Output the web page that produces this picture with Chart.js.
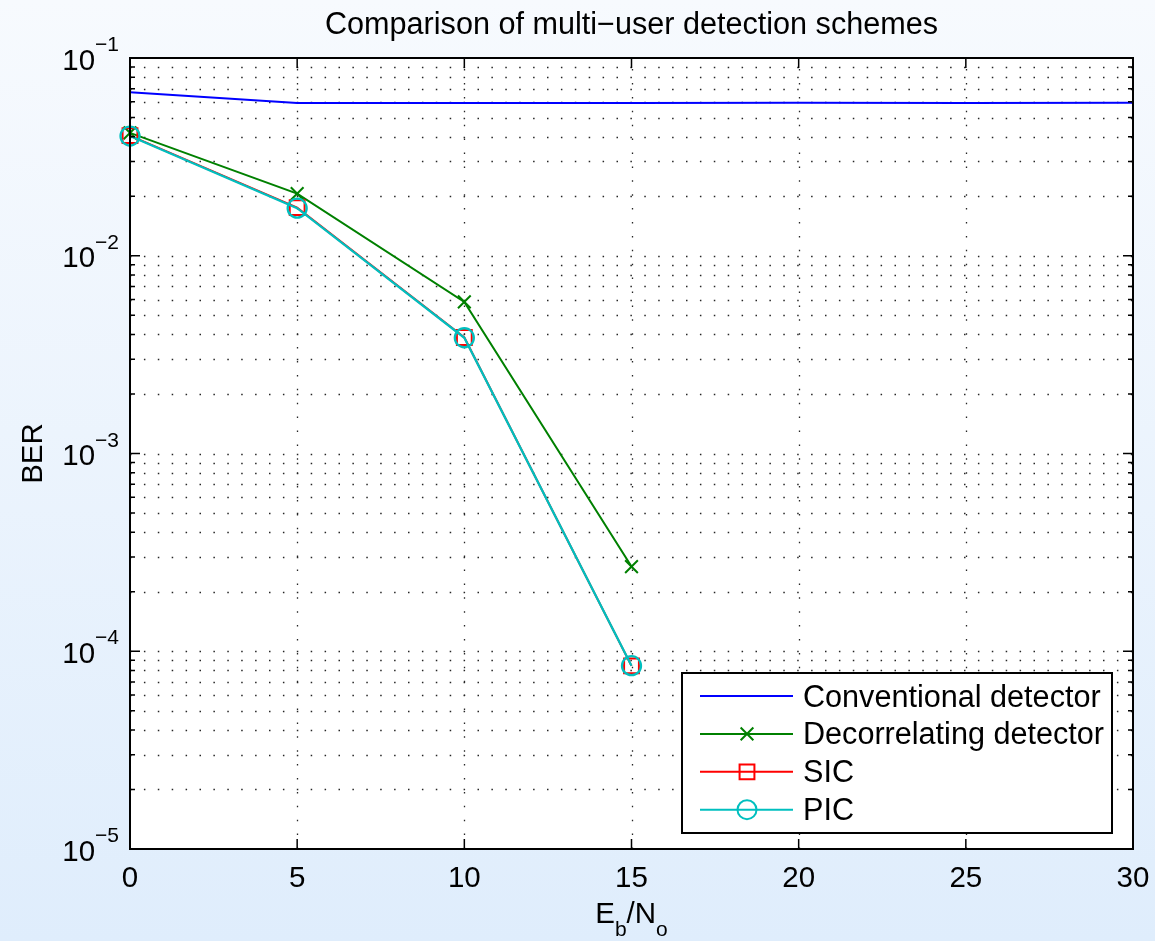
<!DOCTYPE html>
<html>
<head>
<meta charset="utf-8">
<title>Comparison of multi-user detection schemes</title>
<script src="https://cdn.jsdelivr.net/npm/chart.js"></script>
<style>
  html, body { margin: 0; padding: 0; }
  body {
    width: 1155px; height: 941px; overflow: hidden;
    background: linear-gradient(to bottom, #f7fafe 0%, #dfedfc 100%);
  }
  #wrap { position: relative; width: 1155px; height: 941px; }
</style>
</head>
<body>
<div id="wrap"><canvas id="berChart" width="1155" height="941"></canvas></div>
<script>
// Eb/No values (dB) and BER
var snr_db = [0, 5, 10, 15, 20, 25, 30]
var ber_conventional = [0.0671, 0.0593, 0.0593, 0.0593, 0.0594, 0.0593, 0.0594]
var ber_decorrelating = [0.0418, 0.0206, 0.00584, 0.000268]
var ber_sic = [0.0405, 0.0175, 0.00386, 0.0000843]
var ber_pic = [0.0403, 0.0174, 0.00385, 0.0000845]

var series_names = ['Conventional detector', 'Decorrelating detector', 'SIC', 'PIC']
var x_ticks = [0, 5, 10, 15, 20, 25, 30]
var y_tick_exps = [-1, -2, -3, -4, -5]

var FONT = "'Liberation Sans', Arial, Helvetica, sans-serif"

function toPoints(vals){
    var pts = []
    for (var i = 0; i < vals.length; i++){
        pts.push({x: snr_db[i], y: vals[i]})
    }
    return pts
}

// draws one marker like matlab does, used for the legend samples
function drawMarker(ctx, style, x, y, r, color){
    ctx.save()
    ctx.strokeStyle = color
    ctx.lineWidth = 2
    ctx.beginPath()
    if (style == 'crossRot'){
        var d = r * Math.SQRT1_2
        ctx.moveTo(x - d, y - d); ctx.lineTo(x + d, y + d)
        ctx.moveTo(x - d, y + d); ctx.lineTo(x + d, y - d)
    }
    else if (style == 'rect'){
        var s = r * Math.SQRT1_2
        ctx.rect(x - s, y - s, 2 * s, 2 * s)
    }
    else if (style == 'circle'){
        ctx.arc(x, y, r, 0, Math.PI * 2)
    }
    ctx.stroke()
    ctx.restore()
}

var matlabLook = {
    id: 'matlabLook',
    beforeDatasetsDraw: function(chart){
        var ctx = chart.ctx
        var a = chart.chartArea
        var xs = chart.scales.x
        var ys = chart.scales.y
        ctx.save()
        ctx.fillStyle = '#ffffff'
        ctx.fillRect(a.left, a.top, a.right - a.left, a.bottom - a.top)

        // dotted grid
        ctx.strokeStyle = '#262626'
        ctx.lineWidth = 1.3
        ctx.setLineDash([1.5, 12.4])
        for (var k = -5; k <= -2; k++){
            for (var m = 1; m <= 9; m++){
                if (k == -5 && m == 1) continue
                var py = Math.round(ys.getPixelForValue(m * Math.pow(10, k))) + 0.5
                ctx.beginPath()
                ctx.moveTo(a.left, py)
                ctx.lineTo(a.right, py)
                ctx.stroke()
            }
        }
        for (var i = 1; i < x_ticks.length - 1; i++){
            var px = Math.round(xs.getPixelForValue(x_ticks[i])) + 0.5
            ctx.beginPath()
            ctx.moveTo(px, a.bottom)
            ctx.lineTo(px, a.top)
            ctx.stroke()
        }
        ctx.restore()
    },
    afterDatasetsDraw: function(chart){
        var ctx = chart.ctx
        var a = chart.chartArea
        var xs = chart.scales.x
        var ys = chart.scales.y
        ctx.save()
        ctx.setLineDash([])
        ctx.strokeStyle = '#000000'

        // ticks
        ctx.lineWidth = 1.5
        ctx.beginPath()
        for (var i = 0; i < x_ticks.length; i++){
            var px = xs.getPixelForValue(x_ticks[i])
            ctx.moveTo(px, a.bottom); ctx.lineTo(px, a.bottom - 10)
            ctx.moveTo(px, a.top); ctx.lineTo(px, a.top + 10)
        }
        for (var k = -5; k <= -1; k++){
            for (var m = 1; m <= 9; m++){
                if (k == -1 && m > 1) break
                var py = ys.getPixelForValue(m * Math.pow(10, k))
                var len = (m == 1) ? 10 : 5
                ctx.moveTo(a.left, py); ctx.lineTo(a.left + len, py)
                ctx.moveTo(a.right, py); ctx.lineTo(a.right - len, py)
            }
        }
        ctx.stroke()

        // box
        ctx.lineWidth = 2
        ctx.strokeRect(a.left, a.top, a.right - a.left, a.bottom - a.top)

        // tick labels
        ctx.fillStyle = '#000000'
        ctx.font = '29.5px ' + FONT
        ctx.textAlign = 'center'
        ctx.textBaseline = 'alphabetic'
        for (var i = 0; i < x_ticks.length; i++){
            ctx.fillText(String(x_ticks[i]), xs.getPixelForValue(x_ticks[i]), a.bottom + 38)
        }
        for (var j = 0; j < y_tick_exps.length; j++){
            var py = ys.getPixelForValue(Math.pow(10, y_tick_exps[j]))
            var exp = '\u2212' + String(-y_tick_exps[j])
            ctx.font = '21px ' + FONT
            var ew = ctx.measureText(exp).width
            ctx.textAlign = 'left'
            ctx.fillText(exp, 119 - ew, py - 7)
            ctx.font = '29.5px ' + FONT
            ctx.textAlign = 'right'
            ctx.fillText('10', 119 - ew, py + 11.5)
        }

        // title
        ctx.textAlign = 'center'
        ctx.font = '30.6px ' + FONT
        ctx.fillText('Comparison of multi\u2212user detection schemes', (a.left + a.right) / 2, 34)

        // y label
        ctx.save()
        ctx.translate(42, (a.top + a.bottom) / 2)
        ctx.rotate(-Math.PI / 2)
        ctx.font = '29.5px ' + FONT
        ctx.fillText('BER', 0, 0)
        ctx.restore()

        // x label E_b/N_o
        var big = '29.5px ' + FONT, small = '21px ' + FONT
        var parts = [['E', big, 0], ['b', small, 13], ['/N', big, 0], ['o', small, 13]]
        var total = 0
        for (var p = 0; p < parts.length; p++){
            ctx.font = parts[p][1]
            total += ctx.measureText(parts[p][0]).width
        }
        var cx = (a.left + a.right) / 2 - total / 2
        ctx.textAlign = 'left'
        for (var p = 0; p < parts.length; p++){
            ctx.font = parts[p][1]
            ctx.fillText(parts[p][0], cx, 923 + parts[p][2])
            cx += ctx.measureText(parts[p][0]).width
        }

        // legend
        var lx = 682, ly = 673, lw = 430, lh = 160
        ctx.fillStyle = '#ffffff'
        ctx.fillRect(lx, ly, lw, lh)
        ctx.lineWidth = 2
        ctx.strokeStyle = '#000000'
        ctx.strokeRect(lx, ly, lw, lh)
        var dsets = chart.data.datasets
        for (var d = 0; d < dsets.length; d++){
            var ds = dsets[d]
            var ry = ly + 23 + d * 37.9
            ctx.strokeStyle = ds.borderColor
            ctx.lineWidth = 2
            ctx.beginPath()
            ctx.moveTo(700, ry); ctx.lineTo(793, ry)
            ctx.stroke()
            if (ds.pointRadius > 0){
                drawMarker(ctx, ds.pointStyle, 747, ry, ds.pointRadius, ds.borderColor)
            }
            ctx.fillStyle = '#000000'
            ctx.font = '30.6px ' + FONT
            ctx.textAlign = 'left'
            ctx.fillText(ds.label, 803, ry + 10.5)
        }
        ctx.restore()
    }
}

var ctx = document.getElementById('berChart').getContext('2d')
var berChart = new Chart(ctx, {
    type: 'line',
    data: {
        datasets: [
            {
                label: series_names[0], data: toPoints(ber_conventional),
                borderColor: '#0000ff', borderWidth: 2, pointRadius: 0, order: 3
            },
            {
                label: series_names[1], data: toPoints(ber_decorrelating),
                borderColor: '#008000', borderWidth: 2, order: 2, clip: false,
                pointStyle: 'crossRot', pointRadius: 9, pointBorderWidth: 2,
                pointBorderColor: '#008000', pointBackgroundColor: 'rgba(0,0,0,0)'
            },
            {
                label: series_names[2], data: toPoints(ber_sic),
                borderColor: '#ff0000', borderWidth: 2, order: 1, clip: false,
                pointStyle: 'rect', pointRadius: 10.5, pointBorderWidth: 2,
                pointBorderColor: '#ff0000', pointBackgroundColor: 'rgba(0,0,0,0)'
            },
            {
                label: series_names[3], data: toPoints(ber_pic),
                borderColor: '#00bfbf', borderWidth: 2.3, order: 0, clip: false,
                pointStyle: 'circle', pointRadius: 9.5, pointBorderWidth: 2.3,
                pointBorderColor: '#00bfbf', pointBackgroundColor: 'rgba(0,0,0,0)'
            }
        ]
    },
    options: {
        responsive: false,
        animation: false,
        layout: { padding: { top: 58, right: 22, left: 0, bottom: 0 } },
        elements: { line: { tension: 0 } },
        plugins: {
            legend: { display: false },
            tooltip: { enabled: false },
            title: { display: false }
        },
        scales: {
            x: {
                type: 'linear', min: 0, max: 30,
                ticks: { display: false, stepSize: 5 },
                grid: { display: false },
                border: { display: false },
                afterFit: function(scale){ scale.height = 92 }
            },
            y: {
                type: 'logarithmic', min: 1e-5, max: 1e-1,
                ticks: { display: false },
                grid: { display: false },
                border: { display: false },
                afterFit: function(scale){ scale.width = 130 }
            }
        }
    },
    plugins: [matlabLook]
})
</script>
</body>
</html>
